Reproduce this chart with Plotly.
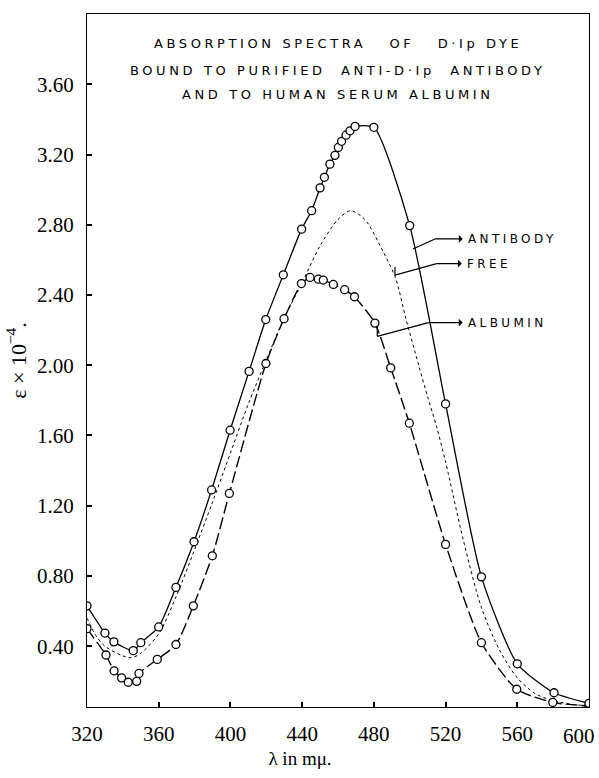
import plotly.graph_objects as go

# ---------------- data ----------------
antibody_x = [320, 330, 335, 345.8, 350, 360, 369.6, 379.7, 389.5, 399.8, 410.4, 419.7,
              429.5, 439.7, 445.3, 450, 452.4, 455.5, 458.3, 460.2, 462, 464.5, 466.7,
              469.5, 480, 500, 520, 540, 560, 580.5, 600]
antibody_y = [0.63, 0.475, 0.425, 0.375, 0.42, 0.51, 0.735, 0.995, 1.29, 1.63, 1.965, 2.26,
              2.515, 2.775, 2.88, 3.01, 3.07, 3.145, 3.195, 3.24, 3.275, 3.31, 3.335,
              3.36, 3.355, 2.795, 1.78, 0.795, 0.30, 0.135, 0.075]

albumin_x = [320, 330.6, 335.1, 339.3, 343, 347.7, 349, 359.2, 369.6, 379.3, 389.9, 399.4,
             419.8, 429.9, 439.6, 444.4, 449, 451.8, 457.4, 463.7, 469.2, 480.6, 489.4,
             499.8, 520, 540, 559.7, 579.8, 600]
albumin_y = [0.50, 0.35, 0.26, 0.22, 0.195, 0.20, 0.245, 0.325, 0.41, 0.63, 0.915, 1.27,
             2.01, 2.265, 2.465, 2.50, 2.49, 2.485, 2.46, 2.43, 2.39, 2.24, 1.985,
             1.67, 0.98, 0.42, 0.155, 0.08, 0.06]

free_x = [320, 325, 330, 340, 345, 350, 360, 370, 380, 390, 400, 410, 420, 430, 440,
          450, 460, 467, 475, 485, 492, 498, 505, 510, 515, 520, 530, 540, 550, 560,
          570, 580, 590, 600]
free_y = [0.56, 0.46, 0.40, 0.345, 0.335, 0.36, 0.47, 0.69, 0.95, 1.22, 1.50, 1.78,
          2.03, 2.27, 2.47, 2.68, 2.83, 2.88, 2.83, 2.65, 2.50, 2.26, 2.00, 1.82,
          1.65, 1.45, 1.00, 0.62, 0.38, 0.22, 0.13, 0.09, 0.07, 0.06]

x_ticks = [320, 360, 400, 440, 480, 520, 560, 600]
x_tick_labels = [str(v) for v in x_ticks]
y_ticks = [0.40, 0.80, 1.20, 1.60, 2.00, 2.40, 2.80, 3.20, 3.60]
y_tick_labels = ["%.2f" % v for v in y_ticks]

title_lines = ["ABSORPTION SPECTRA&nbsp;&nbsp; OF&nbsp;&nbsp; D·Ip DYE",
               "BOUND TO PURIFIED&nbsp; ANTI-D·Ip&nbsp; ANTIBODY",
               "AND TO HUMAN SERUM ALBUMIN"]
series_labels = ["ANTIBODY", "FREE", "ALBUMIN"]
x_title = "λ in mμ."
y_title = "ε&nbsp;×&nbsp;10<sup>−4</sup>."

# ---------------- figure ----------------
fig = go.Figure()

fig.add_trace(go.Scatter(
    x=free_x, y=free_y, mode="lines",
    line=dict(color="black", width=1, dash="3px,3px", shape="spline", smoothing=0.8),
    showlegend=False, hoverinfo="skip"))

fig.add_trace(go.Scatter(
    x=albumin_x, y=albumin_y, mode="lines+markers",
    line=dict(color="black", width=1.4, dash="12px,4px", shape="spline", smoothing=0.6),
    marker=dict(symbol="circle", size=8, color="white", line=dict(color="black", width=1.3)),
    showlegend=False))

fig.add_trace(go.Scatter(
    x=antibody_x, y=antibody_y, mode="lines+markers",
    line=dict(color="black", width=1.3, shape="spline", smoothing=0.6),
    marker=dict(symbol="circle", size=8, color="white", line=dict(color="black", width=1.3)),
    showlegend=False))

SP = '<span style="letter-spacing:3.6px">%s</span>'
SPL = '<span style="letter-spacing:3.4px">%s</span>'
title_y = [0.958, 0.918, 0.884]
annotations = []
for txt, yy in zip(title_lines, title_y):
    annotations.append(dict(
        text=SP % txt, x=0.5, y=yy, xref="paper", yref="paper",
        xanchor="center", yanchor="middle", showarrow=False,
        font=dict(family="DejaVu Sans", size=13, color="black")))

# label leaders: (curve point, bend, label x, label y)
leaders = [
    ((501.8, 2.662), (514.1, 2.719), 531.8, 2.719),
    ((491.8, 2.513), (515.0, 2.579), 531.3, 2.579),
    ((481.9, 2.165), (510.4, 2.243), 531.8, 2.243),
]
shapes = []
for (p0, p1, lx, ly), lab in zip(leaders, series_labels):
    shapes.append(dict(type="line", xref="x", yref="y", x0=p0[0], y0=p0[1],
                       x1=p1[0], y1=p1[1], line=dict(color="black", width=1.3)))
    annotations.append(dict(
        text=SPL % lab, x=p1[0], y=p1[1], ax=lx, ay=ly, xref="x", yref="y",
        axref="x", ayref="y", xanchor="left", yanchor="middle",
        showarrow=True, arrowhead=2, arrowside="start", arrowsize=1,
        arrowwidth=1.3, arrowcolor="black", startstandoff=4, borderpad=0,
        font=dict(family="DejaVu Sans", size=12, color="black")))
# small ticks at the FREE and ALBUMIN pick-up points
shapes.append(dict(type="line", xref="x", yref="y", x0=491.8, y0=2.513, x1=491.8, y1=2.56,
                   line=dict(color="black", width=1.2)))
shapes.append(dict(type="line", xref="x", yref="y", x0=481.9, y0=2.165, x1=481.9, y1=2.22,
                   line=dict(color="black", width=1.2)))

# last x tick label sits inside the page edge, as in the reference
annotations.append(dict(
    text=x_tick_labels[-1], x=x_ticks[-1], y=0, xref="x", yref="paper",
    xanchor="right", yanchor="top", yshift=-15, xshift=8, showarrow=False,
    font=dict(family="Liberation Serif", size=21, color="black")))

fig.update_layout(
    width=599, height=778,
    margin=dict(l=87, r=10, t=14, b=71),
    paper_bgcolor="white", plot_bgcolor="white",
    annotations=annotations, shapes=shapes,
    showlegend=False,
)
fig.update_xaxes(
    range=[320, 600], tickvals=x_ticks[:-1], ticktext=x_tick_labels[:-1],
    title=dict(text=x_title + "&nbsp;" * 16, standoff=6,
               font=dict(family="Liberation Serif", size=19, color="black")),
    showgrid=False, zeroline=False, showline=True, linecolor="black", linewidth=1.3,
    mirror=True, ticks="inside", ticklen=5, tickwidth=2, tickcolor="black",
    tickfont=dict(family="Liberation Serif", size=21, color="black"),
    ticklabelstandoff=8, automargin=False)
fig.update_yaxes(
    range=[0.054, 4.0], tickvals=y_ticks, ticktext=y_tick_labels,
    title=dict(text=y_title, standoff=4,
               font=dict(family="Liberation Serif", size=22, color="black")),
    showgrid=False, zeroline=False, showline=True, linecolor="black", linewidth=1.3,
    mirror=True, ticks="inside", ticklen=5, tickwidth=2, tickcolor="black",
    tickfont=dict(family="Liberation Serif", size=21, color="black"),
    ticklabelstandoff=8, automargin=False)

fig.write_html("out.html")
